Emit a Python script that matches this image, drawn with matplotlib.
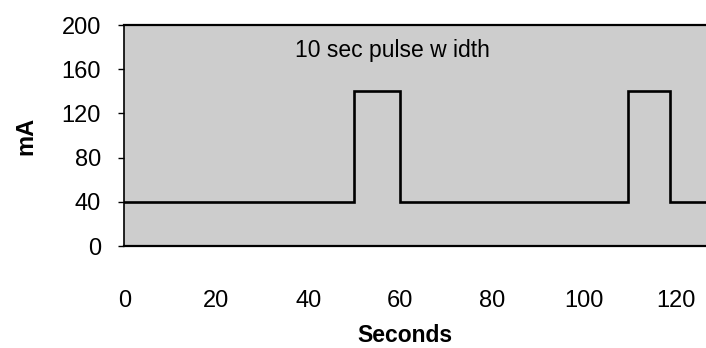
import matplotlib.pyplot as plt
import numpy as np

plt.rcParams['font.family'] = ['Liberation Sans', 'DejaVu Sans']

# step waveform (seconds, mA)
seconds = [0, 50, 50, 60, 60, 109.5, 109.5, 118.8, 118.8, 128]
current = [40, 40, 140, 140, 40, 40, 140, 140, 40, 40]

xticks = [0, 20, 40, 60, 80, 100, 120]
yticks = [0, 40, 80, 120, 160, 200]

fig = plt.figure(figsize=(7.06, 3.48), dpi=100)
ax = fig.add_axes([0.1763, 0.293, 0.83, 0.635])

ax.set_facecolor('#cdcdcd')
ax.plot(seconds, current, color='black', lw=1.9, solid_joinstyle='miter')

ax.set_xlim(0, 127.5)
ax.set_ylim(0, 200)
ax.set_xticks(xticks)
ax.set_yticks(yticks)
ax.tick_params(axis='x', length=0, pad=32, labelsize=17)
ax.tick_params(axis='y', length=4, width=1, pad=13, labelsize=17)

for s in ['top', 'bottom']:
    ax.spines[s].set_linewidth(1.6)
ax.spines['left'].set_linewidth(1.2)
ax.spines['right'].set_visible(False)

ax.text(37, 177, '10 sec pulse w idth', fontsize=16.5, ha='left', va='center')

fig.text(0.574, 0.035, 'Seconds', fontsize=16.5, fontweight='bold',
         ha='center', va='center')
fig.text(0.036, 0.61, 'mA', fontsize=17, fontweight='bold',
         ha='center', va='center', rotation=90)

fig.savefig('out.png', dpi=100)
